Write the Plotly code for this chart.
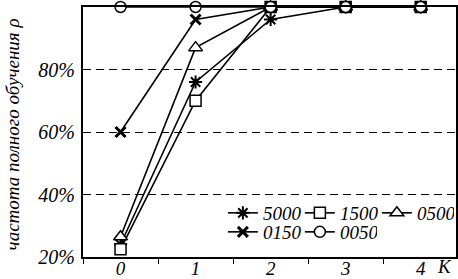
import plotly.graph_objects as go

categories = ["0", "1", "2", "3", "4"]
s5000 = [24, 76, 96, 100, 100]
s1500 = [22.5, 70, 100, 100, 100]
s0500 = [26.5, 87, 100, 100, 100]
s0150 = [60, 96, 100, 100, 100]
s0050 = [100, 100, 100, 100, 100]
y_ticks = [20, 40, 60, 80, 100]

FONT = "Liberation Serif"
FS = 19

series = [
    ("5000", s5000, dict(symbol="asterisk-open", size=11, line=dict(color="black", width=2)), "legend"),
    ("1500", s1500, dict(symbol="square", size=11, color="white", line=dict(color="black", width=1.5)), "legend"),
    ("0500", s0500, dict(symbol="triangle-up", size=12, color="white", line=dict(color="black", width=1.5)), "legend"),
    ("0150", s0150, dict(symbol="x-thin-open", size=10, line=dict(color="black", width=3)), "legend2"),
    ("0050", s0050, dict(symbol="circle", size=11, color="white", line=dict(color="black", width=1.5)), "legend2"),
]

fig = go.Figure()
for name, vals, marker, lg in series:
    fig.add_trace(go.Scatter(
        x=categories, y=vals, name=name, mode="lines+markers",
        line=dict(color="black", width=1.6), marker=marker,
        cliponaxis=False, legend=lg,
    ))

legend_common = dict(orientation="h", xanchor="left", yanchor="middle",
                     font=dict(family=FONT, size=FS, style="italic"),
                     bgcolor="rgba(0,0,0,0)", itemwidth=30, tracegroupgap=0,
                     entrywidth=32)

fig.update_layout(
    width=458, height=279,
    margin=dict(l=83, r=2, t=7, b=22, autoexpand=False),
    plot_bgcolor="white", paper_bgcolor="white",
    font=dict(family=FONT, size=FS, color="black"),
    legend=dict(x=0.375, y=0.176, **legend_common),
    legend2=dict(x=0.375, y=0.10, **legend_common),
    showlegend=True,
)

fig.update_xaxes(
    type="category", range=[-0.5, 4.47], tickson="boundaries",
    ticks="outside", ticklen=5, tickwidth=1, tickcolor="black",
    showline=True, linecolor="black", linewidth=2, mirror=True,
    showgrid=False, automargin=False, ticklabelstandoff=-7,
    tickfont=dict(family=FONT, size=FS, style="italic"),
)
fig.update_yaxes(
    range=[20, 100], tickvals=y_ticks, ticktext=[f"{v}%" for v in y_ticks],
    showline=True, linecolor="black", linewidth=2, mirror=True,
    showgrid=True, gridcolor="black", gridwidth=1, griddash="8px,5px",
    ticks="", automargin=False, ticklabelstandoff=2,
    tickfont=dict(family=FONT, size=20, style="italic"),
    zeroline=False,
)

fig.add_annotation(text="частота полного обучения ρ", textangle=-90,
                   x=-0.188, y=0.49, xref="paper", yref="paper",
                   xanchor="center", yanchor="middle", showarrow=False,
                   font=dict(family=FONT, size=19, style="italic"))

fig.add_annotation(text="K", x=1, y=0, xref="paper", yref="paper",
                   xanchor="right", yanchor="top", yshift=3, xshift=-2, showarrow=False,
                   font=dict(family=FONT, size=FS, style="italic"))

fig.write_html("out.html", config={"displayModeBar": False},
               post_script="document.body.style.margin='0';")
